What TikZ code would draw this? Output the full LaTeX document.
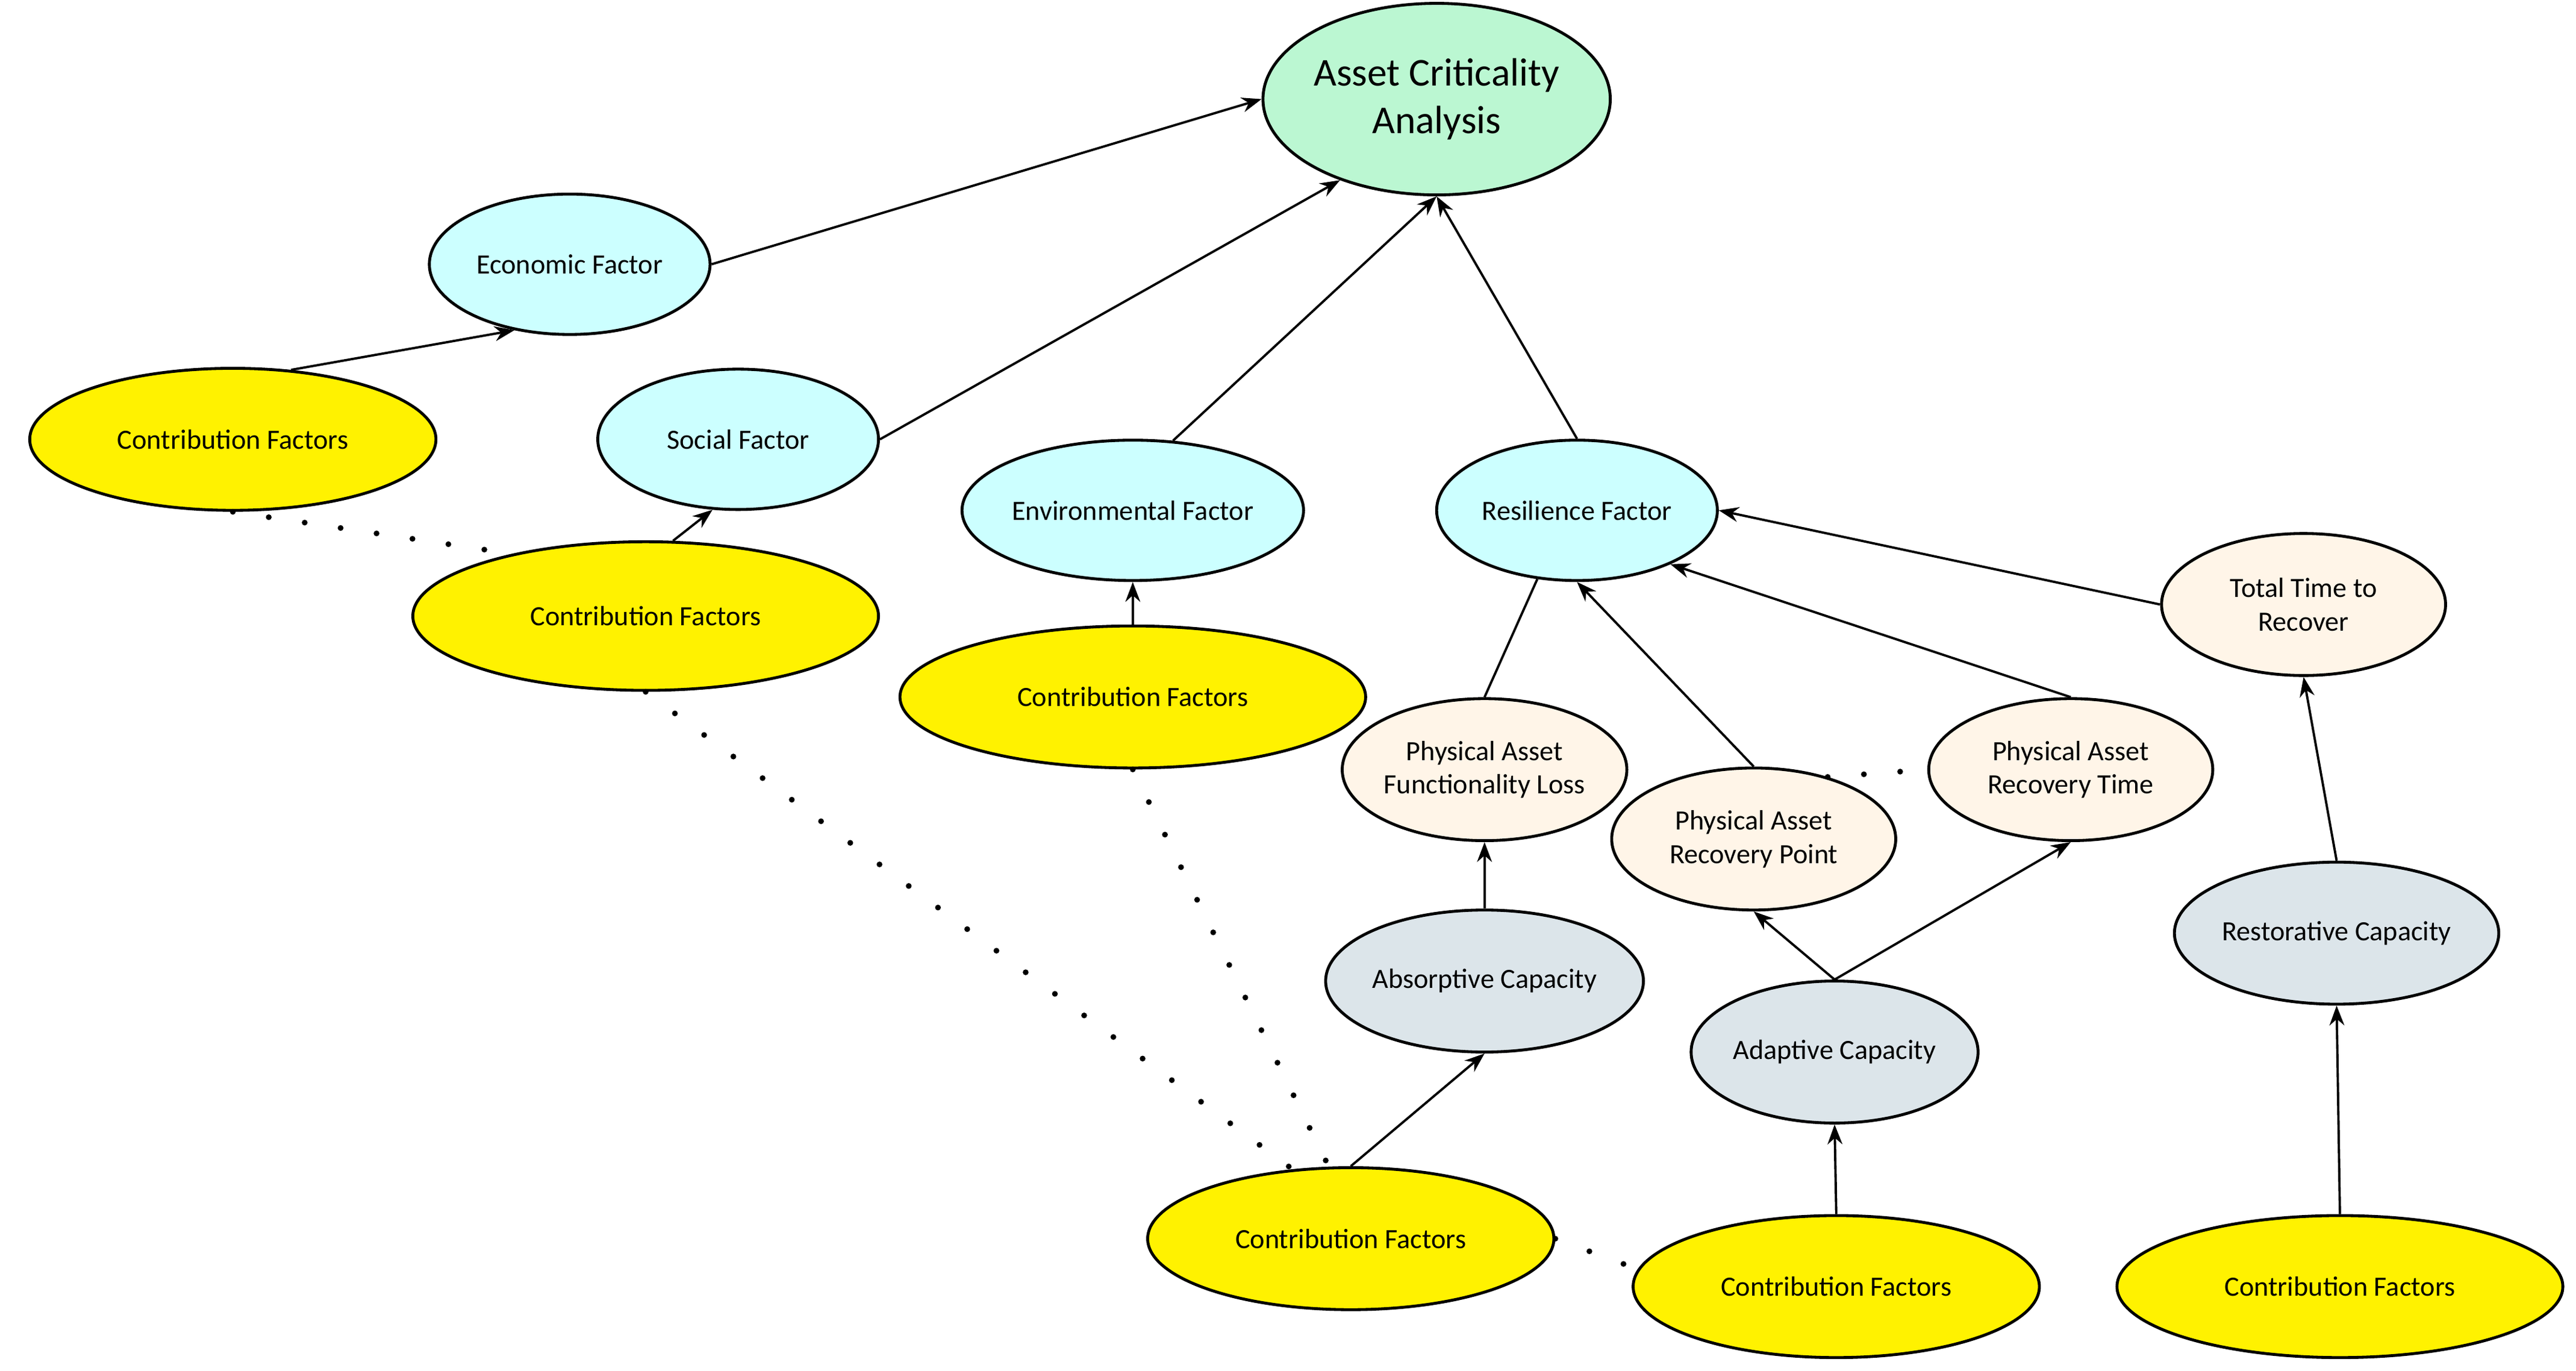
\documentclass[tikz,border=0pt]{standalone}
\usepackage{fontspec}
\setmainfont{Carlito}
\usetikzlibrary{shapes.geometric,arrows.meta}
\definecolor{capc}{HTML}{DCE5EA}
\definecolor{pac}{HTML}{FFF5E8}
\definecolor{facc}{HTML}{CCFFFF}
\definecolor{acac}{HTML}{BBF7D2}
\begin{document}
\begin{tikzpicture}[
  e/.style={ellipse,draw,line width=0.5pt,inner sep=0pt,font=\fontsize{4.8}{5.8}\selectfont,align=center},
  cf/.style={e,fill=yellow,minimum width=2.46cm,minimum height=0.86cm},
  fac/.style={e,fill=facc,minimum width=1.7cm,minimum height=0.85cm},
  pa/.style={e,fill=pac,minimum width=1.72cm,minimum height=0.86cm},
  capy/.style={e,fill=capc,minimum width=1.72cm,minimum height=0.86cm},
  ar/.style={-{Stealth[length=1.2mm,width=0.9mm]},line width=0.4pt},
  pl/.style={line width=0.4pt},
  dt/.style={line width=0.035cm,line cap=round,dash pattern=on 0pt off 0.22cm}
]
\useasboundingbox (0,0) rectangle (15.6,-8.3);
\node[e,fill=acac,minimum width=2cm,minimum height=1.16cm,font=\fontsize{6.8}{8.2}\selectfont] (aca) at (8.70,-0.60) {Asset Criticality\\Analysis};
\node[fac] (eco) at (3.45,-1.60) {Economic Factor};
\node[fac] (soc) at (4.47,-2.66) {Social Factor};
\node[fac,minimum width=1.72cm] (env) at (6.86,-3.09) {Environmental Factor};
\node[fac] (res) at (9.55,-3.09) {Resilience Factor};
\node[cf] (cf1) at (1.41,-2.66) {Contribution Factors};
\node[cf,minimum width=2.82cm,minimum height=0.9cm] (cf2) at (3.91,-3.73) {Contribution Factors};
\node[cf,minimum width=2.82cm] (cf3) at (6.86,-4.22) {Contribution Factors};
\node[cf] (cf4) at (8.18,-7.50) {Contribution Factors};
\node[cf] (cf5) at (11.12,-7.79) {Contribution Factors};
\node[cf,minimum width=2.7cm] (cf6) at (14.17,-7.79) {Contribution Factors};
\node[pa] (ttr) at (13.95,-3.66) {Total Time to\\Recover};
\node[pa] (pfl) at (8.99,-4.66) {Physical Asset\\Functionality Loss};
\node[pa] (prt) at (12.54,-4.66) {Physical Asset\\Recovery Time};
\node[pa] (prp) at (10.62,-5.08) {Physical Asset\\Recovery Point};
\node[capy] (abs) at (8.99,-5.94) {Absorptive Capacity};
\node[capy] (ada) at (11.11,-6.37) {Adaptive Capacity};
\node[capy] (rst) at (14.15,-5.65) {Restorative Capacity};
% arrows
\draw[ar] (eco.east) -- (aca.west);
\draw[ar] (soc.east) -- (aca.220);
\draw[ar] (env.60) -- (aca.south);
\draw[ar] (res.north) -- (aca.south);
\draw[ar] (cf1.50) -- (eco.230);
\draw[ar] (cf2.70) -- (soc.250);
\draw[ar] (cf3.north) -- (env.south);
\draw[ar] (ttr.west) -- (res.east);
\draw[pl] (pfl.north) -- (res.240);
\draw[ar] (prp.north) -- (res.south);
\draw[ar] (prt.north) -- (res.330);
\draw[ar] (abs.north) -- (pfl.south);
\coordinate (adt) at (ada.north);
\draw[ar] (adt) -- (prp.south);
\draw[ar] (adt) -- (prt.south);
\draw[ar] (rst.north) -- (ttr.south);
\draw[ar] (cf4.north) -- (abs.south);
\draw[ar] (cf5.north) -- (ada.south);
\draw[ar] (cf6.north) -- (rst.south);
% dotted
\draw[dt] (cf1.south) -- (cf2.155);
\draw[dt] (cf2.south) -- (cf4.130);
\draw[dt] (cf3.south) -- (cf4.107);
\draw[dt] (cf4.east) -- (cf5.175);
\draw[dt] (prp.40) -- (prt.180);
\end{tikzpicture}
\end{document}
